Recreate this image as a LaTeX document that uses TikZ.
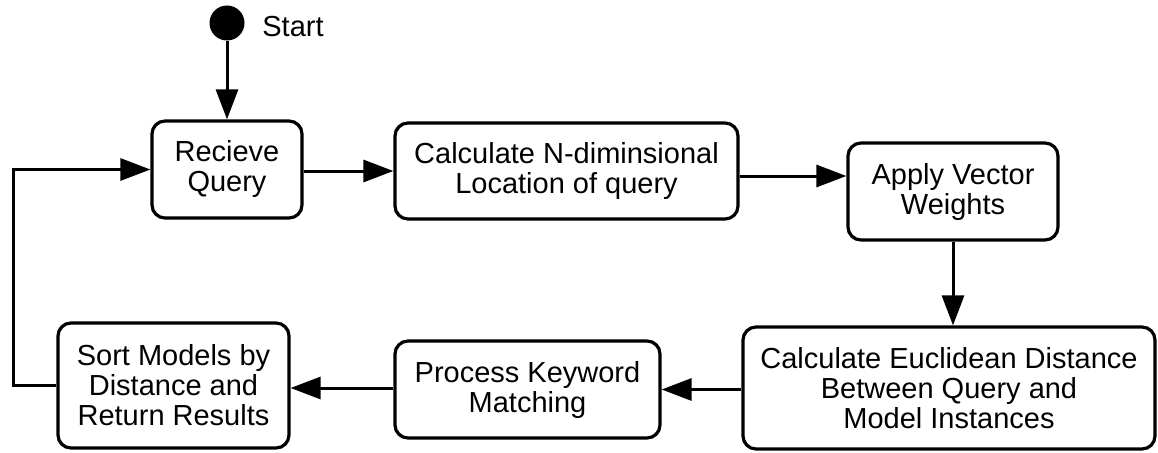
\documentclass[tikz,border=0pt]{standalone}
\usepackage{fontspec}
\setmainfont{Liberation Sans}
\usetikzlibrary{arrows.meta}
\begin{document}
\begin{tikzpicture}[x=1pt,y=-1pt,
  txt/.style={font=\fontsize{29}{30}\selectfont},
  box/.style={txt, draw, line width=3.2pt, rounded corners=13pt, align=center, inner sep=0pt},
  arr/.style={line width=3pt, -{Triangle[length=30pt,width=22pt]}},
  lin/.style={line width=3pt}]
\useasboundingbox[fill=white] (0,0) rectangle (1158,452);
\node[circle, fill, inner sep=0pt, minimum size=35pt] (start) at (227,23) {};
\node[txt] (startlbl) at (293,27) {Start};
\node[box, minimum width=150pt, minimum height=97pt] (recv) at (227,169.5) {Recieve\\Query};
\node[box, minimum width=343pt, minimum height=96pt] (calc) at (566.5,171) {Calculate N-diminsional\\Location of query};
\node[box, minimum width=210pt, minimum height=97pt] (apply) at (953,191.5) {Apply Vector\\Weights};
\node[box, minimum width=412pt, minimum height=122pt] (eucl) at (949,388) {Calculate Euclidean Distance\\Between Query and\\Model Instances};
\node[box, minimum width=265pt, minimum height=97pt] (proc) at (527.5,389.5) {Process Keyword\\Matching};
\node[box, minimum width=231pt, minimum height=125pt] (sort) at (173.5,385.5) {Sort Models by\\Distance and\\Return Results};
\coordinate (loopx) at (13,0);
\draw[arr] (start.south) -- (recv.north);
\draw[arr] (recv.east |- calc.west) -- (calc.west);
\draw[arr] (calc.east |- 0,176) -- (apply.west |- 0,176);
\draw[arr] (apply.south) -- (apply.south |- eucl.north);
\draw[arr] (eucl.west |- proc.east) -- (proc.east);
\draw[arr] (proc.west |- 0,388) -- (sort.east |- 0,388);
\draw[arr] (sort.west) -- (loopx |- sort.west) -- (loopx |- recv.west) -- (recv.west);
\end{tikzpicture}
\end{document}
